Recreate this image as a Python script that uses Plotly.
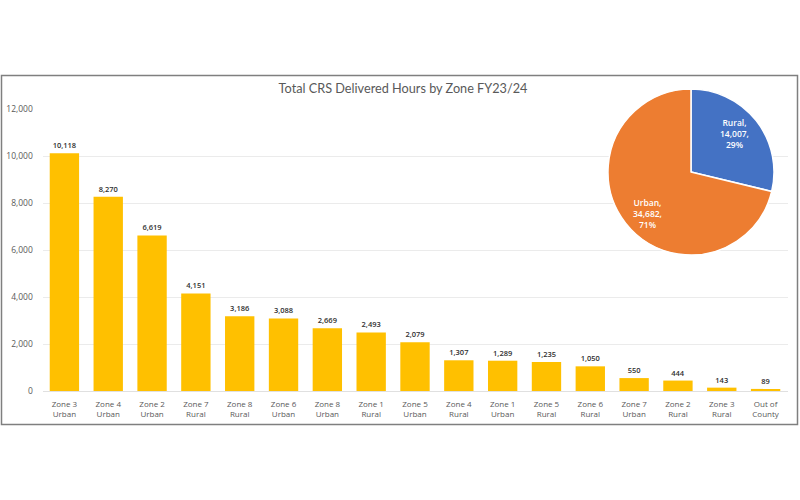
import plotly.graph_objects as go

zones = ["Zone 3<br>Urban", "Zone 4<br>Urban", "Zone 2<br>Urban", "Zone 7<br>Rural", "Zone 8<br>Rural",
         "Zone 6<br>Urban", "Zone 8<br>Urban", "Zone 1<br>Rural", "Zone 5<br>Urban", "Zone 4<br>Rural",
         "Zone 1<br>Urban", "Zone 5<br>Rural", "Zone 6<br>Rural", "Zone 7<br>Urban", "Zone 2<br>Rural",
         "Zone 3<br>Rural", "Out of<br>County"]
hours = [10118, 8270, 6619, 4151, 3186, 3088, 2669, 2493, 2079, 1307, 1289, 1235, 1050, 550, 444, 143, 89]
area_labels = ["Rural", "Urban"]
area_hours = [14007, 34682]
y_ticks = [0, 2000, 4000, 6000, 8000, 10000, 12000]

W, H = 800, 500
FONT = "Open Sans"

fig = go.Figure()

fig.add_trace(go.Bar(
    x=zones,
    y=hours,
    marker=dict(color="#FFC000", line=dict(width=0)),
    width=0.67,
    text=[f"{v:,}" for v in hours],
    textposition="outside",
    textfont=dict(size=7.5, color="#303030", family=FONT, weight=600),
    cliponaxis=False,
    showlegend=False,
))

fig.add_trace(go.Pie(
    labels=area_labels,
    values=area_hours,
    sort=False,
    direction="clockwise",
    rotation=0,
    marker=dict(colors=["#4472C4", "#ED7D31"], line=dict(color="white", width=1.5)),
    textinfo="none",
    domain=dict(x=[608 / W, 774 / W], y=[1 - 255 / H, 1 - 89 / H]),
    showlegend=False,
))

# pie labels sit further out than plotly's inside text, so place them by hand
total = sum(area_hours)
label_spots = [(734, 133), (647, 214)]
pie_notes = []
for name, val, (px, py) in zip(area_labels, area_hours, label_spots):
    pie_notes.append(dict(
        text=f"{name},<br>{val:,},<br>{val / total:.0%}",
        xref="paper", yref="paper",
        x=px / W, y=1 - py / H,
        xanchor="center", yanchor="middle",
        showarrow=False, align="center",
        font=dict(size=8.5, color="white", family=FONT, weight=600),
    ))

fig.update_layout(
    width=W,
    height=H,
    margin=dict(l=0, r=0, t=0, b=0),
    paper_bgcolor="white",
    plot_bgcolor="white",
    bargap=0.33,
    title=dict(
        text="Total CRS Delivered Hours by Zone FY23/24",
        x=403 / W, xanchor="center",
        y=1 - 89 / H, yanchor="middle",
        font=dict(size=12.7, color="#595959", family="Lato"),
    ),
    annotations=pie_notes,
    # frame around the chart
    shapes=[dict(type="rect", xref="paper", yref="paper",
                 x0=1.5 / W, x1=797.5 / W, y0=1 - 424.5 / H, y1=1 - 75.5 / H,
                 line=dict(color="#7F7F7F", width=1.5), layer="above")],
)

fig.update_xaxes(
    domain=[42.5 / W, 787.5 / W],
    automargin=False,
    tickfont=dict(size=8, color="#595959", family=FONT),
    showline=True, linecolor="#E0E0E0", linewidth=1,
    ticks="outside", ticklen=5, tickcolor="rgba(0,0,0,0)",
    tickangle=0, showgrid=False,
)
fig.update_yaxes(
    domain=[1 - 391 / H, 1 - 109 / H],
    automargin=False,
    range=[0, 12000],
    tickvals=y_ticks,
    tickformat=",",
    tickfont=dict(size=8.5, color="#595959", family=FONT),
    gridcolor="#EBEBEB", gridwidth=1,
    zeroline=False,
    ticks="outside", ticklen=7, tickcolor="rgba(0,0,0,0)",
)

# page default body margin would shift the chart by 8px
fig.write_html("out.html", config=dict(displayModeBar=False),
               post_script="document.body.style.margin='0';")
